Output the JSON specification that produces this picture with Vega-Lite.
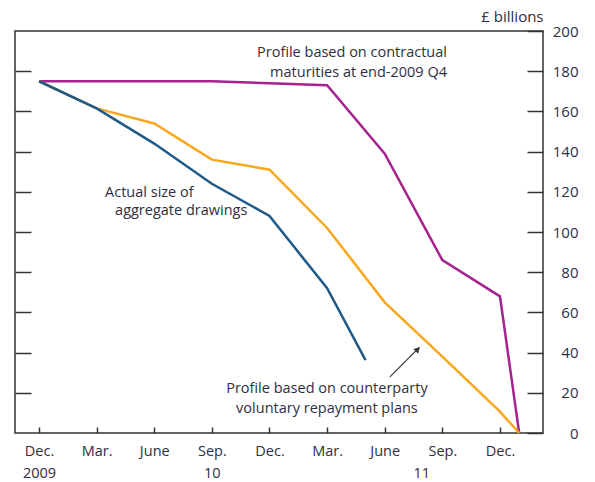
{
  "$schema": "https://vega.github.io/schema/vega-lite/v6.json",
  "width": 528,
  "height": 402,
  "autosize": {"type": "none"},
  "padding": {"left": 15, "top": 31, "right": 52, "bottom": 49},
  "background": "white",
  "config": {
    "view": {"stroke": "#333333", "strokeWidth": 1.5},
    "font": "Open Sans",
    "axis": {"domain": false, "grid": false, "labelColor": "#2e2e40", "tickColor": "#333333", "tickWidth": 1.5}
  },
  "datasets": {
    "series": [
      {"s": "contract", "m": 0, "v": 175},
      {"s": "contract", "m": 3, "v": 175},
      {"s": "contract", "m": 6, "v": 175},
      {"s": "contract", "m": 9, "v": 175},
      {"s": "contract", "m": 12, "v": 174},
      {"s": "contract", "m": 15, "v": 173},
      {"s": "contract", "m": 18, "v": 139},
      {"s": "contract", "m": 21, "v": 86},
      {"s": "contract", "m": 24, "v": 68},
      {"s": "contract", "m": 25, "v": 0},
      {"s": "voluntary", "m": 0, "v": 175},
      {"s": "voluntary", "m": 3, "v": 161.5},
      {"s": "voluntary", "m": 6, "v": 154},
      {"s": "voluntary", "m": 9, "v": 136},
      {"s": "voluntary", "m": 12, "v": 131},
      {"s": "voluntary", "m": 15, "v": 102},
      {"s": "voluntary", "m": 18, "v": 65},
      {"s": "voluntary", "m": 21, "v": 38},
      {"s": "voluntary", "m": 24, "v": 10.6},
      {"s": "voluntary", "m": 25, "v": 0},
      {"s": "actual", "m": 0, "v": 175},
      {"s": "actual", "m": 3, "v": 161.5},
      {"s": "actual", "m": 6, "v": 144},
      {"s": "actual", "m": 9, "v": 124},
      {"s": "actual", "m": 12, "v": 108},
      {"s": "actual", "m": 15, "v": 72},
      {"s": "actual", "m": 17, "v": 36.3}
    ]
  },
  "layer": [
    {
      "data": {"name": "series"},
      "mark": {"type": "line", "strokeWidth": 2.5},
      "encoding": {
        "x": {
          "field": "m", "type": "quantitative",
          "scale": {"domain": [-1.25, 26.24], "nice": false, "zero": false},
          "axis": {
            "orient": "bottom", "title": null,
            "values": [0, 3, 6, 9, 12, 15, 18, 19.9, 21, 24],
            "tickSize": -6, "labelPadding": 17, "labelFontSize": 14.5,
            "labelLineHeight": 22, "labelOverlap": false, "labelFlush": false,
            "tickOpacity": {"condition": {"test": "datum.value == 19.9", "value": 0}, "value": 1},
            "labelExpr": "datum.value == 19.9 ? ['', '11'] : datum.value == 0 ? ['Dec.', '2009'] : datum.value == 9 ? ['Sep.', '10'] : (datum.value % 12 == 0 ? 'Dec.' : datum.value % 12 == 3 ? 'Mar.' : datum.value % 12 == 6 ? 'June' : 'Sep.')"
          }
        },
        "y": {
          "field": "v", "type": "quantitative",
          "scale": {"domain": [0, 200], "nice": false},
          "axis": {
            "orient": "right", "title": "£ billions",
            "values": [0, 20, 40, 60, 80, 100, 120, 140, 160, 180, 200],
            "tickSize": -16, "labelPadding": 51, "labelAlign": "right", "labelFontSize": 15,
            "titleAngle": 0, "titleAlign": "right", "titleBaseline": "alphabetic",
            "titleX": 0, "titleY": -10, "titleFontWeight": "normal", "titleFontSize": 15, "titleColor": "#2e2e40"
          }
        },
        "color": {
          "field": "s", "type": "nominal",
          "scale": {"domain": ["contract", "voluntary", "actual"], "range": ["#a6228f", "#f9a71c", "#1f5a88"]},
          "legend": null
        }
      }
    },
    {
      "data": {"values": [{"m": 18.27, "v": 27.9, "m2": 19.8, "v2": 42.6}]},
      "mark": {"type": "rule", "color": "#333333", "strokeWidth": 1.2},
      "encoding": {
        "x": {"field": "m", "type": "quantitative", "axis": null},
        "y": {
          "field": "v", "type": "quantitative",
          "axis": {"orient": "left", "title": null, "labels": false, "tickSize": -16,
                   "values": [20, 40, 60, 80, 100, 120, 140, 160, 180]}
        },
        "x2": {"field": "m2"},
        "y2": {"field": "v2"}
      }
    },
    {
      "data": {"values": [{"m": 19.72, "v": 41.6}]},
      "mark": {"type": "point", "shape": "triangle-up", "angle": 45, "size": 45, "filled": true, "color": "#333333", "opacity": 1},
      "encoding": {
        "x": {"field": "m", "type": "quantitative", "axis": null},
        "y": {"field": "v", "type": "quantitative", "axis": null}
      }
    },
    {
      "data": {"values": [
        {"t": "Profile based on contractual", "m": 21.24, "v": 187},
        {"t": "maturities at end-2009 Q4", "m": 21.24, "v": 177}
      ]},
      "mark": {"type": "text", "align": "right", "baseline": "alphabetic", "fontSize": 14.5, "color": "#2e2e40"},
      "encoding": {
        "x": {"field": "m", "type": "quantitative", "axis": null},
        "y": {"field": "v", "type": "quantitative", "axis": null},
        "text": {"field": "t"}
      }
    },
    {
      "data": {"values": [
        {"t": "Actual size of", "m": 3.44, "v": 117.4},
        {"t": "aggregate drawings", "m": 3.96, "v": 108.3}
      ]},
      "mark": {"type": "text", "align": "left", "baseline": "alphabetic", "fontSize": 14.5, "color": "#2e2e40"},
      "encoding": {
        "x": {"field": "m", "type": "quantitative", "axis": null},
        "y": {"field": "v", "type": "quantitative", "axis": null},
        "text": {"field": "t"}
      }
    },
    {
      "data": {"values": [
        {"t": "Profile based on counterparty", "m": 14.99, "v": 19.9},
        {"t": "voluntary repayment plans", "m": 14.99, "v": 10}
      ]},
      "mark": {"type": "text", "align": "center", "baseline": "alphabetic", "fontSize": 14.5, "color": "#2e2e40"},
      "encoding": {
        "x": {"field": "m", "type": "quantitative", "axis": null},
        "y": {"field": "v", "type": "quantitative", "axis": null},
        "text": {"field": "t"}
      }
    }
  ],
  "resolve": {"scale": {"x": "shared", "y": "shared"}, "axis": {"x": "independent", "y": "independent"}}
}
